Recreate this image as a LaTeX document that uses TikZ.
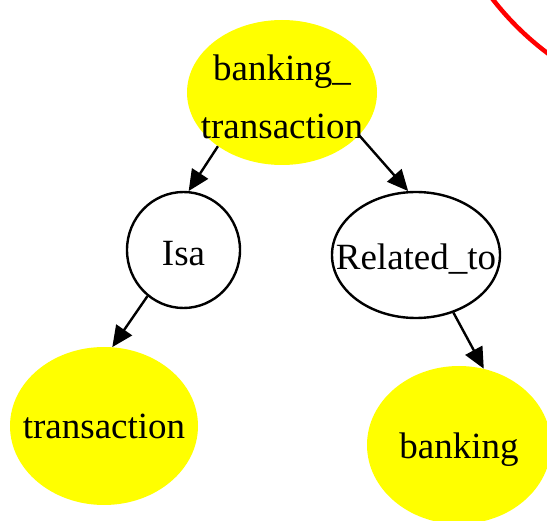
\documentclass[tikz,border=0pt]{standalone}
\usepackage{fontspec}
\setmainfont{Liberation Serif}
\usetikzlibrary{shapes.geometric,arrows.meta}
\definecolor{yel}{RGB}{255,255,0}
\definecolor{redline}{RGB}{255,0,0}
\tikzset{
  concept/.style={ellipse, fill=yel, draw=none, inner sep=0pt},
  relation/.style={ellipse, fill=white, draw=black, line width=2.4pt, inner sep=0pt},
  lbl/.style={font=\fontsize{37}{58}\selectfont, align=center, inner sep=0pt},
  edge/.style={line width=2.4pt, -{Triangle[length=21pt,width=19pt]}}
}
\begin{document}
\begin{tikzpicture}[x=1pt,y=-1pt]
\useasboundingbox (0,0) rectangle (547,521);
\begin{scope}
\clip (0,0) rectangle (547,521);
\draw[redline, line width=4.5pt] (721,-178) circle[radius=289pt];
\node[concept, minimum width=190pt, minimum height=145pt,
      label={[lbl,yshift=-4pt]center:banking\_\\transaction}] (bt) at (282,92.5) {};
\node[relation, minimum width=113pt, minimum height=116pt,
      label={[lbl,yshift=-4pt]center:Isa}] (isa) at (183.5,250) {};
\node[relation, minimum width=168pt, minimum height=126pt,
      label={[lbl,yshift=-4pt]center:Related\_to}] (rel) at (416,255) {};
\node[concept, minimum width=188pt, minimum height=158pt,
      label={[lbl]center:transaction}] (tr) at (104,426) {};
\node[concept, minimum width=184pt, minimum height=158pt,
      label={[lbl,yshift=-5pt]center:banking}] (bk) at (459,445) {};
\end{scope}
\draw[edge] (bt.220.9) -- (isa.85.6);
\draw[edge] (bt.331.7) -- (rel.97.2);
\draw[edge] (isa.232.4) -- (tr.84.2);
\draw[edge] (rel.303) -- (bk.72);
\end{tikzpicture}
\end{document}
